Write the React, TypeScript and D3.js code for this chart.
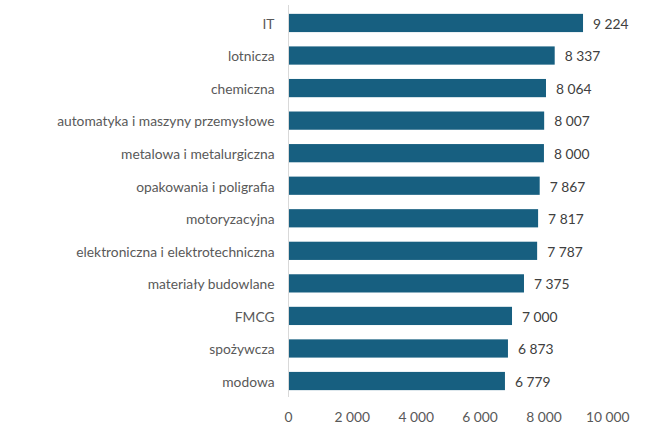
import React from "react";
import * as d3 from "d3";

const categories = [
  "IT",
  "lotnicza",
  "chemiczna",
  "automatyka i maszyny przemysłowe",
  "metalowa i metalurgiczna",
  "opakowania i poligrafia",
  "motoryzacyjna",
  "elektroniczna i elektrotechniczna",
  "materiały budowlane",
  "FMCG",
  "spożywcza",
  "modowa",
];
const values = [9224, 8337, 8064, 8007, 8000, 7867, 7817, 7787, 7375, 7000, 6873, 6779];
const xTicks = [0, 2000, 4000, 6000, 8000, 10000];

const W = 666;
const H = 435;
const left = 288.5;
const right = 607.8;
const axisTop = 5;
const axisBottom = 397;

const fmt = (v: number) => d3.format(",")(v).replace(/,/g, " ");

export default function App() {
  const x = d3.scaleLinear().domain([0, 10000]).range([left, right]);
  const y = d3.scaleBand<string>().domain(categories).range([6.7, 397.3]).paddingInner(0.44).paddingOuter(0.22);
  const font = "Lato, 'Open Sans', sans-serif";
  const fs = 13.8;
  return (
    <svg width={W} height={H} style={{ position: "absolute", left: 0, top: 0 }}>
      <rect width={W} height={H} fill="#fff" />
      {categories.map((c, i) => (
        <g key={c}>
          <rect x={x(0)} y={y(c)!} width={x(values[i]) - x(0)} height={y.bandwidth()} fill="#175F80" />
          <text x={x(values[i]) + 10} y={y(c)! + y.bandwidth() / 2 + 1} dy="0.35em" fontFamily={font} fontSize={fs} fill="#404040">
            {fmt(values[i])}
          </text>
          <text x={left - 14} y={y(c)! + y.bandwidth() / 2 + 1} dy="0.35em" textAnchor="end" fontFamily={font} fontSize={fs} fill="#595959">
            {c}
          </text>
        </g>
      ))}
      <line x1={left} x2={left} y1={axisTop} y2={axisBottom} stroke="#d9d9d9" strokeWidth={1} />
      {xTicks.map((t) => (
        <text key={t} x={x(t)} y={417} dy="0.35em" textAnchor="middle" fontFamily={font} fontSize={fs} fill="#595959">
          {fmt(t)}
        </text>
      ))}
    </svg>
  );
}
